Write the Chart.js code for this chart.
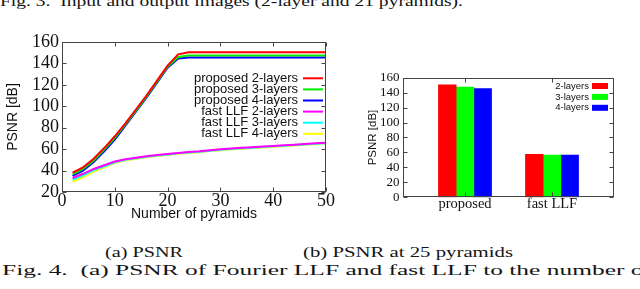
<!DOCTYPE html>
<html><head><meta charset="utf-8">
<script src="https://cdn.jsdelivr.net/npm/chart.js@4"></script>
<style>
html,body{margin:0;padding:0;background:#fff;width:640px;height:289px;overflow:hidden;position:relative}
.cap{position:absolute;font-family:"Liberation Serif",serif;font-size:15.5px;line-height:15.5px;white-space:nowrap;color:#151515;transform-origin:0 0}
#c1wrap{position:absolute;left:0;top:30px;width:340px;height:200px}
#c2wrap{position:absolute;left:340px;top:60px;width:300px;height:165px}
</style></head><body>
<div class="cap" id="capTop" style="left:0px;top:-7px">Fig. 3.&nbsp; Input and output images (2-layer and 21 pyramids).</div>
<div class="cap" id="capA" style="left:105px;top:244px">(a) PSNR</div>
<div class="cap" id="capB" style="left:303px;top:244px">(b) PSNR at 25 pyramids</div>
<div class="cap" id="capFig" style="left:2px;top:262px">Fig. 4.&nbsp; (a) PSNR of Fourier LLF and fast LLF to the number of</div>
<div id="c1wrap"><canvas id="c1"></canvas></div>
<div id="c2wrap"><canvas id="c2"></canvas></div>
<script>
// ---- data ----
const pyramids = [2,4,6,8,10,12,14,16,18,20,22,24,26,28,30,32,34,36,38,40,42,44,46,48,50];
const prop2 = [38,43,51,61,72,84,97,110,124,138,148.5,150.5,150.5,150.5,150.5,150.5,150.5,150.5,150.5,150.5,150.5,150.5,150.5,150.5,150.5];
const prop3 = [36.5,41.5,49.5,59.5,70.5,83,96,109,123,137,146,147.5,147.5,147.5,147.5,147.5,147.5,147.5,147.5,147.5,147.5,147.5,147.5,147.5,147.5];
const prop4 = [35,40,48,58,69,82,95,108,122,136,144.5,145.5,145.5,145.5,145.5,145.5,145.5,145.5,145.5,145.5,145.5,145.5,145.5,145.5,145.5];
const fast2 = [33,37,41.5,45,48.5,50.5,52,53.3,54.5,55.5,56.5,57.3,58,59,59.8,60.5,61.2,61.8,62.4,63,63.6,64.2,64.8,65.4,66];
const fast3 = [31.5,35.5,40.5,44,47.8,50,51.5,52.9,54.1,55.1,56.1,56.9,57.6,58.6,59.4,60.1,60.8,61.4,62,62.6,63.2,63.8,64.4,65,65.6];
const fast4 = [29.5,34,39,43,47,49.5,51,52.5,53.7,54.7,55.7,56.5,57.2,58.2,59,59.7,60.4,61,61.6,62.2,62.8,63.4,64,64.6,65.2];
const lineLabels = ['proposed 2-layers','proposed 3-layers','proposed 4-layers','fast LLF 2-layers','fast LLF 3-layers','fast LLF 4-layers'];
const lineColors = ['#ff0000','#00ee00','#0000ff','#ff00ff','#00ffff','#ffff00'];
const xTicksLeft = [0,10,20,30,40,50];
const yTicksLeft = [20,40,60,80,100,120,140,160];

const barCategories = ['proposed','fast LLF'];
const bar2 = [150.5,57.5];
const bar3 = [147.5,56.5];
const bar4 = [145.5,56.5];
const barLabels = ['2-layers','3-layers','4-layers'];
const barColors = ['#ff0000','#00ff00','#0000ff'];
const yTicksRight = [0,20,40,60,80,100,120,140,160];

// ---- caption width fitting ----
function fit(id, w){
  const el = document.getElementById(id);
  const cw = el.getBoundingClientRect().width;
  el.style.transform = 'scaleX(' + (w / cw) + ')';
}
fit('capTop', 463); fit('capA', 78); fit('capB', 210); fit('capFig', 650);

const SERIF = '"Liberation Serif", "Times New Roman", serif';
const SANS = '"Liberation Sans", Arial, sans-serif';

// gnuplot-like border, inward ticks and keys
const gnuBox = {
  id: 'gnuBox',
  afterDatasetsDraw(chart, args, o) {
    const {ctx, chartArea: a} = chart;
    const xs = chart.scales.x, ys = chart.scales.y;
    const L = 4;
    ctx.save();
    ctx.strokeStyle = '#444'; ctx.lineWidth = 1;
    const l = Math.round(a.left) + 0.5, r = Math.round(a.right) - 0.5, t = Math.round(a.top) + 0.5, b = Math.round(a.bottom) - 0.5;
    ctx.strokeRect(l, t, r - l, b - t);
    ctx.beginPath();
    ys.ticks.forEach(tk => {
      const y = Math.round(ys.getPixelForValue(tk.value)) + 0.5;
      ctx.moveTo(l, y); ctx.lineTo(l + L, y);
      ctx.moveTo(r, y); ctx.lineTo(r - L, y);
    });
    xs.ticks.forEach(tk => {
      const x = Math.round(xs.getPixelForValue(tk.value)) + 0.5;
      ctx.moveTo(x, b); ctx.lineTo(x, b - L);
      ctx.moveTo(x, t); ctx.lineTo(x, t + L);
    });
    ctx.stroke();
    // key
    const k = o.key;
    ctx.font = k.font;
    ctx.textAlign = 'right'; ctx.textBaseline = 'middle';
    chart.data.datasets.forEach((ds, i) => {
      const y = k.y0 + i * k.dy;
      ctx.fillStyle = '#111';
      ctx.fillText(ds.label, k.textRight, y);
      if (k.type === 'line') {
        ctx.strokeStyle = ds.borderColor; ctx.lineWidth = 2;
        ctx.beginPath(); ctx.moveTo(k.s0, y); ctx.lineTo(k.s1, y); ctx.stroke();
      } else {
        ctx.fillStyle = ds.backgroundColor;
        ctx.fillRect(k.s0, y - k.h / 2, k.s1 - k.s0, k.h);
      }
    });
    ctx.restore();
  }
};

// ---- left: line chart ----
const lineSeries = [prop2, prop3, prop4, fast2, fast3, fast4];
new Chart(document.getElementById('c1'), {
  type: 'line',
  data: {
    datasets: lineSeries.map((s, i) => ({
      label: lineLabels[i],
      data: pyramids.map((p, j) => ({x: p, y: s[j]})),
      borderColor: lineColors[i],
      backgroundColor: lineColors[i],
      borderWidth: 2, pointRadius: 0, tension: 0, fill: false
    }))
  },
  options: {
    responsive: true, maintainAspectRatio: false, animation: false,
    layout: {padding: {top: 11, right: 14, bottom: 0, left: 0}},
    plugins: {
      legend: {display: false}, tooltip: {enabled: false},
      gnuBox: {key: {type: 'line', font: '13px ' + SANS, textRight: 298, s0: 303, s1: 323, y0: 48.3, dy: 11.1}}
    },
    scales: {
      x: {
        type: 'linear', min: 0, max: 50,
        afterBuildTicks: s => { s.ticks = xTicksLeft.map(v => ({value: v})); },
        afterFit: s => { s.height = 38; },
        grid: {display: false, drawTicks: false}, border: {display: false},
        ticks: {font: {family: SERIF, size: 18, lineHeight: 1}, color: '#111', padding: 0, maxRotation: 0, autoSkip: false},
        title: {display: true, text: 'Number of pyramids', font: {family: SANS, size: 14, lineHeight: 1.2}, color: '#111', padding: {top: 0, bottom: 7}}
      },
      y: {
        type: 'linear', min: 20, max: 160,
        afterBuildTicks: s => { s.ticks = yTicksLeft.map(v => ({value: v})); },
        afterFit: s => { s.width = 62; },
        grid: {display: false, drawTicks: false}, border: {display: false},
        ticks: {font: {family: SERIF, size: 18, lineHeight: 1}, color: '#111', padding: 3, autoSkip: false},
        title: {display: true, text: 'PSNR [dB]', font: {family: SANS, size: 14, lineHeight: 1.2}, color: '#111', padding: {top: 5, bottom: 0}}
      }
    }
  },
  plugins: [gnuBox]
});

// ---- right: bar chart ----
const barSeries = [bar2, bar3, bar4];
new Chart(document.getElementById('c2'), {
  type: 'bar',
  data: {
    datasets: barSeries.map((s, i) => ({
      label: barLabels[i],
      data: barCategories.map((c, j) => ({x: j, y: s[j]})),
      backgroundColor: barColors[i], borderWidth: 0, barThickness: 17.7
    }))
  },
  options: {
    responsive: true, maintainAspectRatio: false, animation: false,
    layout: {padding: {top: 17.7, right: 26, bottom: 0, left: 0}},
    plugins: {
      legend: {display: false}, tooltip: {enabled: false},
      gnuBox: {key: {type: 'box', font: '9.5px ' + SANS, textRight: 249, s0: 252, s1: 268, h: 6, y0: 26, dy: 10.9}}
    },
    scales: {
      x: {
        type: 'linear', min: -0.7126, max: 1.7126, offset: false,
        afterBuildTicks: s => { s.ticks = barCategories.map((c, j) => ({value: j})); },
        afterFit: s => { s.height = 27.7; },
        grid: {display: false, drawTicks: false}, border: {display: false},
        ticks: {font: {family: SERIF, size: 14.5, lineHeight: 1}, color: '#111', padding: 0, maxRotation: 0, autoSkip: false,
          callback: v => barCategories[v]}
      },
      y: {
        type: 'linear', min: 0, max: 160,
        afterBuildTicks: s => { s.ticks = yTicksRight.map(v => ({value: v})); },
        afterFit: s => { s.width = 63; },
        grid: {display: false, drawTicks: false}, border: {display: false},
        ticks: {font: {family: SERIF, size: 13, lineHeight: 1}, color: '#111', padding: 3.5, autoSkip: false},
        title: {display: true, text: 'PSNR [dB]', font: {family: SANS, size: 11.5, lineHeight: 1.2}, color: '#111', padding: {top: 26, bottom: 0}}
      }
    }
  },
  plugins: [gnuBox]
});
</script>
</body></html>
